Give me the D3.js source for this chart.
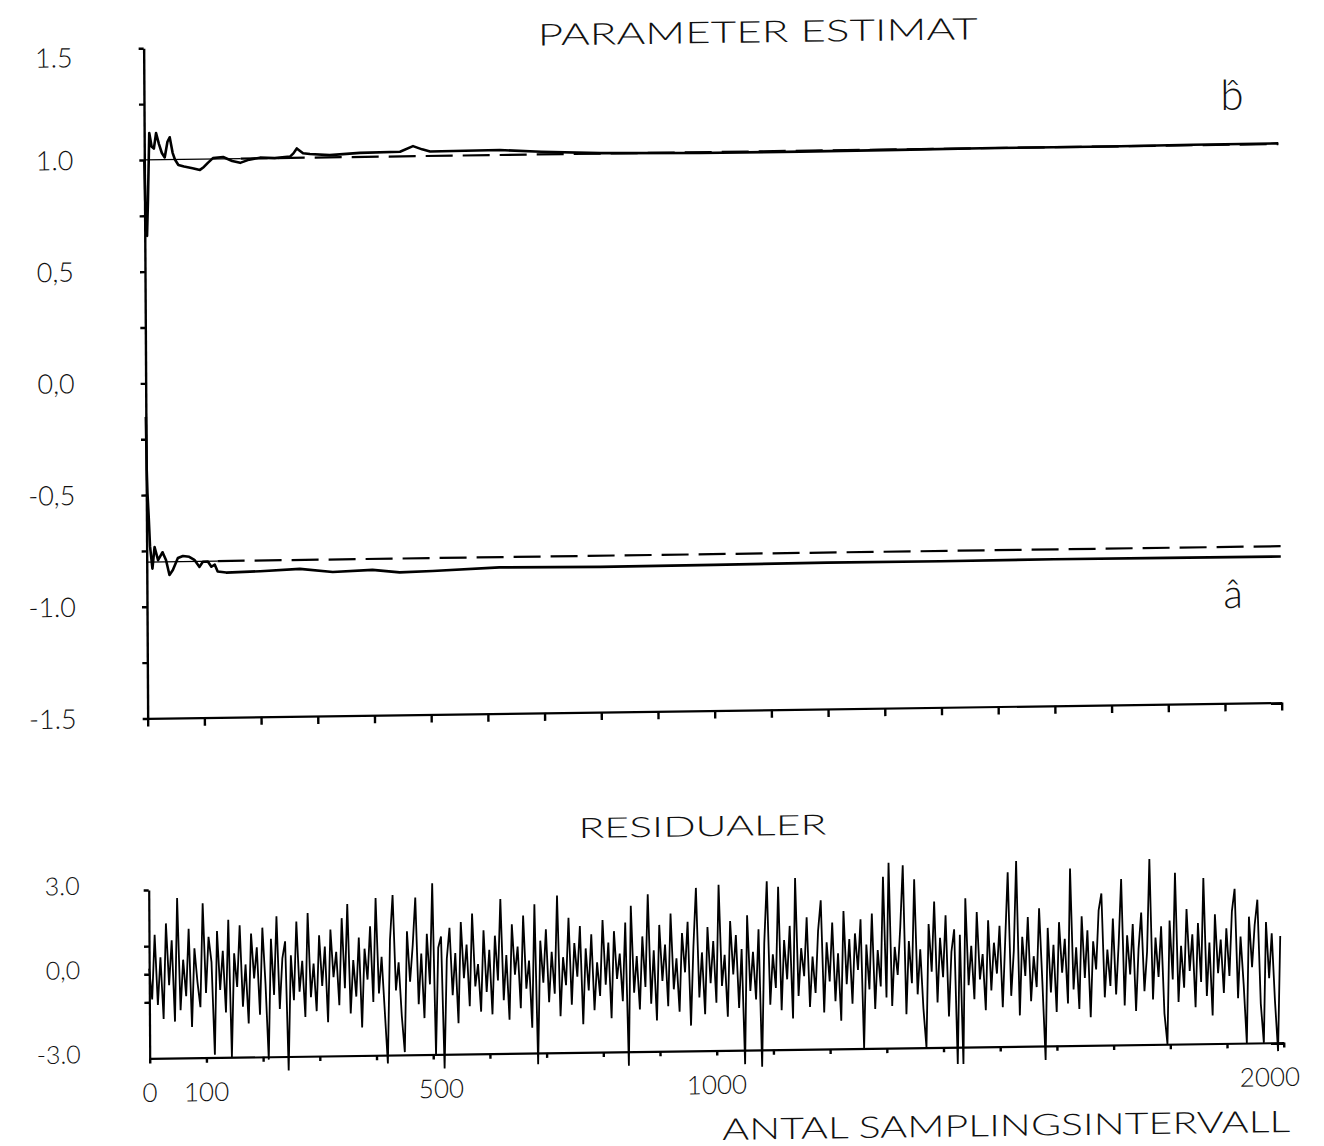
<!DOCTYPE html>
<html>
<head>
<meta charset="utf-8">
<script src="https://cdn.jsdelivr.net/npm/d3@7"></script>
<style>
  body { margin: 0; background: #fff; }
  svg text { font-family: Lato, "DejaVu Sans", sans-serif; font-weight: 300; fill: #111; }
</style>
</head>
<body>
<svg id="chart"></svg>
<script>
// parameter estimates (sample index, value)
const bT   = [0, 2, 4, 6, 9, 13, 17, 21, 26, 31, 36, 41, 45, 50, 54, 60, 70, 85, 98, 105, 112, 121, 139, 155, 169, 185, 204, 230, 257, 263, 269, 280, 292, 327, 380, 451, 474, 490, 504, 627, 700, 804, 980, 1157, 1330, 1500, 1700, 1850, 2000];
const bEst = [1.0, 0.70, 0.66, 0.82, 1.12, 1.06, 1.05, 1.12, 1.07, 1.03, 1.01, 1.08, 1.10, 1.03, 1.0, 0.975, 0.968, 0.96, 0.952, 0.965, 0.983, 1.004, 1.008, 0.99, 0.981, 0.995, 1.003, 1.0, 1.006, 1.02, 1.042, 1.02, 1.016, 1.01, 1.018, 1.021, 1.045, 1.03, 1.02, 1.022, 1.012, 1.002, 0.996, 0.996, 0.998, 1.0, 1.0, 1.002, 1.003];

const aT   = [0, 1, 2, 4, 6, 10, 14, 20, 28, 34, 40, 46, 55, 64, 75, 84, 93, 99, 108, 114, 120, 125, 140, 200, 270, 328, 398, 446, 504, 622, 800, 1000, 1200, 1400, 1600, 1800, 2000];
const aEst = [-0.15, -0.39, -0.49, -0.6, -0.73, -0.83, -0.733, -0.792, -0.757, -0.792, -0.859, -0.837, -0.784, -0.775, -0.779, -0.793, -0.825, -0.802, -0.802, -0.825, -0.816, -0.847, -0.852, -0.848, -0.84, -0.856, -0.849, -0.862, -0.858, -0.846, -0.85, -0.848, -0.845, -0.846, -0.844, -0.845, -0.846];

// true parameter values, thin solid up to refEnd then dashed
const trueB = 1.0, trueA = -0.8;
const refEndB = 170, refEndA = 125;

// residuals, one value every resStep samples
const resStep = 5;
const residuals = [
  0.2, -0.9, 1.4, -1.1, 0.6, -1.6, 1.8, -0.4, 1.2, -1.7, 2.7, -1.3, 0.5, -0.8, 1.6, -1.9, 0.9, -0.3, -1.2, 2.5,
  -0.7, 1.3, 0.4, -2.9, 1.5, -0.6, 0.8, -1.4, 1.9, -3.0, 0.7, -0.5, 1.7, -1.2, 0.3, -1.8, 1.4, -0.2, 0.9, -1.5,
  1.6, -0.4, -3.1, 1.2, -0.8, 2.0, -1.3, 0.5, 1.1, -3.5, 0.6, -1.0, 1.8, -0.7, 0.4, -1.6, 2.1, -0.9, 0.3, -1.4,
  1.3, -0.5, 0.9, -1.8, 1.5, -0.2, 0.7, -1.2, 1.9, -0.6, 2.4, -1.5, 0.4, -0.9, 1.2, -2.0, 0.8, -0.3, 1.6, -1.1,
  2.6, -0.8, 0.5, -1.4, -3.3, 1.1, 2.7, -0.7, 0.3, -1.6, -2.9, 1.4, -0.4, 0.9, 2.6, -1.2, 0.6, -1.7, 1.3, -0.5,
  3.1, -3.0, 0.8, 1.2, -3.5, 0.4, 1.5, -0.9, 0.6, -1.9, 1.7, -0.3, 0.9, -1.3, 2.0, -0.6, 0.2, -1.5, 1.4, -0.8,
  0.7, -1.6, 1.2, -0.4, 2.5, -1.1, 0.5, -1.8, 1.6, -0.2, 0.8, -1.4, 1.9, -0.7, 0.3, -2.1, 2.3, -3.4, 1.0, -0.5,
  1.4, -1.2, 0.6, -0.9, 2.6, -1.7, 0.4, -0.6, 1.8, -1.3, 0.9, -0.3, 1.5, -2.0, 0.7, -0.8, 1.2, -1.5, 0.2, -1.0,
  1.7, -0.6, 0.9, -1.8, 1.3, -0.4, 0.5, -1.2, 1.6, -3.5, 2.2, -0.9, 0.4, -1.5, 1.1, -0.7, 2.6, -1.3, 0.6, -1.9,
  1.5, -0.5, 0.8, -1.4, 1.9, -0.8, 0.3, -1.6, 1.2, -0.2, 1.6, -2.1, 0.7, 2.8, -1.1, 0.5, -1.7, 1.4, -0.6, 0.9,
  -1.3, 2.9, -0.7, 0.4, -1.8, 1.6, -0.3, 1.1, -1.5, 0.6, -3.5, 1.8, -0.9, 0.5, -1.2, 1.3, -3.6, 0.8, 3.0, -1.4,
  0.4, -0.8, 2.8, -1.6, 0.9, -0.5, 1.4, -1.9, 3.1, -1.1, 0.6, -0.4, 1.7, -1.5, 0.3, -1.0, 1.2, 2.3, -1.7, 0.8,
  -0.6, 1.5, -1.3, 0.4, -2.0, 1.9, -0.7, 0.9, -1.4, 1.1, -0.2, 1.6, -3.0, 0.7, -0.9, 1.8, -1.6, 0.5, -0.8, 3.1,
  -1.2, 3.6, -1.5, 0.6, -0.4, 1.3, 3.5, -1.8, 0.8, -0.7, 3.0, -1.1, 0.5, -1.6, -3.0, 1.4, -0.3, 2.2, -1.4, 0.9,
  -0.5, 1.7, -1.9, 0.4, 1.2, -3.6, 1.0, -3.6, 2.3, -0.8, 0.6, -1.3, 1.8, -0.6, 0.3, -1.7, 1.5, -1.0, 0.7, -0.4,
  1.3, -1.6, 0.8, 3.2, -1.2, 0.4, 3.6, -1.9, 0.9, -0.5, 1.6, -1.4, 0.2, -0.9, 1.9, -0.7, -3.5, 1.2, -1.1, 0.6,
  -1.8, 1.4, -0.4, 0.8, -1.5, 3.3, -1.0, 0.5, -1.7, 1.6, -0.6, 1.1, -2.0, 0.7, -0.3, 1.8, 2.4, -1.3, 0.4, -0.9,
  1.5, -1.2, 0.6, 2.9, -1.6, 0.9, -0.5, 1.3, -1.8, 0.4, 1.7, -1.1, 0.3, 3.6, -1.4, 0.8, -0.6, 1.2, -1.9, -3.0,
  1.4, -0.7, 3.1, -1.5, 0.5, -1.0, 1.8, -0.4, 0.9, -1.7, 1.3, -0.8, 2.9, -1.3, 0.6, -2.0, 1.6, -0.5, 0.7, -1.2,
  1.1, -0.6, 1.7, 2.5, -1.4, 0.8, -0.9, -3.0, 1.5, -0.3, 1.2, 2.1, -1.6, -3.0, 1.3, -0.7, 0.9, -1.5, -3.3, 0.8
];

// ticks and labels
const xTickVals = d3.range(0, 2001, 100);
const xLabelVals = [0, 100, 500, 1000, 2000];
const xLabels = ["0", "100", "500", "1000", "2000"];
const yTopTicks = [-1.5, -1.25, -1, -0.75, -0.5, -0.25, 0, 0.25, 0.5, 0.75, 1, 1.25, 1.5];
const yTopLabelVals = [1.5, 1, 0.5, 0, -0.5, -1, -1.5];
const yTopLabels = ["1.5", "1.0", "0,5", "0,0", "-0,5", "-1.0", "-1.5"];
const yResTicks = [-1, 0, 1, 3];
const yResLabelVals = [3, 0, -3];
const yResLabels = ["3.0", "0,0", "-3.0"];

const svg = d3.select("#chart")
  .attr("width", 1324)
  .attr("height", 1146);

svg.append("rect").attr("width", 1324).attr("height", 1146).attr("fill", "#fff");

// the scanned sheet sits a little skewed
const g = svg.append("g")
  .attr("transform", "matrix(1,-0.014,0.006,1,-3.6,10.01)");

const x = d3.scaleLinear().domain([0, 2000]).range([147, 1281]);
const yP = d3.scaleLinear().domain([-1.5, 1.5]).range([710.5, 40.3]);
const yR = d3.scaleLinear().domain([-3, 3]).range([1050.5, 882]);

function styleAxis(sel, w) {
  sel.selectAll("path.domain").attr("stroke", "#000").attr("stroke-width", w);
  sel.selectAll(".tick line").attr("stroke", "#000").attr("stroke-width", 2.4);
}

// ---- top panel
g.append("g")
  .attr("transform", "translate(0," + yP(-1.5) + ")")
  .call(d3.axisBottom(x).tickValues(xTickVals).tickFormat("").tickSize(8).tickSizeOuter(0))
  .call(styleAxis, 2.2);

g.append("g")
  .attr("transform", "translate(" + x(0) + ",0)")
  .call(d3.axisLeft(yP).tickValues(yTopTicks).tickFormat("").tickSize(5).tickSizeOuter(0))
  .call(styleAxis, 2.4);

g.selectAll(".ylab-top")
  .data(yTopLabelVals)
  .enter().append("text")
  .attr("x", 76)
  .attr("y", (d, i) => yP(d) + (i === 0 ? 18 : 9))
  .attr("text-anchor", "end")
  .style("font-size", "27px")
  .text((d, i) => yTopLabels[i]);

g.append("text")
  .attr("x", 541).attr("y", 43)
  .attr("textLength", 440).attr("lengthAdjust", "spacingAndGlyphs")
  .style("font-size", "30px")
  .text("PARAMETER ESTIMAT");

// reference lines for the true values
[[trueB, refEndB], [trueA, refEndA]].forEach(([v, end]) => {
  g.append("line")
    .attr("x1", x(0)).attr("x2", x(end))
    .attr("y1", yP(v)).attr("y2", yP(v))
    .attr("stroke", "#000").attr("stroke-width", 1.3);
  g.append("line")
    .attr("x1", x(end)).attr("x2", x(2000))
    .attr("y1", yP(v)).attr("y2", yP(v))
    .attr("stroke", "#000").attr("stroke-width", 2.2)
    .attr("stroke-dasharray", "27,10");
});

const lineB = d3.line().x((d, i) => x(bT[i])).y(d => yP(d));
const lineA = d3.line().x((d, i) => x(aT[i])).y(d => yP(d));

g.append("path").datum(bEst)
  .attr("d", lineB)
  .attr("fill", "none").attr("stroke", "#000").attr("stroke-width", 2.6)
  .attr("stroke-linejoin", "round");

g.append("path").datum(aEst)
  .attr("d", lineA)
  .attr("fill", "none").attr("stroke", "#000").attr("stroke-width", 2.6)
  .attr("stroke-linejoin", "round");

// hat labels (one text each, combining circumflex)
g.append("text").attr("x", 1235).attr("y", 117).attr("text-anchor", "middle")
  .style("font-size", "42px").text("b\u0302");
g.append("text").attr("x", 1233).attr("y", 615).attr("text-anchor", "middle")
  .style("font-size", "40px").text("\u00e2");

// ---- residual panel
g.append("text")
  .attr("x", 577).attr("y", 836)
  .attr("textLength", 248).attr("lengthAdjust", "spacingAndGlyphs")
  .style("font-size", "28px")
  .text("RESIDUALER");

g.append("path").datum(residuals)
  .attr("d", d3.line().x((d, i) => x(i * resStep)).y(d => yR(d)))
  .attr("fill", "none").attr("stroke", "#000").attr("stroke-width", 1.8);

g.append("g")
  .attr("transform", "translate(0," + yR(-3) + ")")
  .call(d3.axisBottom(x).tickValues(xTickVals).tickFormat("").tickSize(5).tickSizeOuter(0))
  .call(styleAxis, 2.2);

g.append("g")
  .attr("transform", "translate(" + x(0) + ",0)")
  .call(d3.axisLeft(yR).tickValues(yResTicks).tickFormat("").tickSize(5).tickSizeOuter(0))
  .call(styleAxis, 2.2);

g.selectAll(".ylab-res")
  .data(yResLabelVals)
  .enter().append("text")
  .attr("x", 78)
  .attr("y", d => yR(d) + 4)
  .attr("text-anchor", "end")
  .style("font-size", "25px")
  .text((d, i) => yResLabels[i]);

g.selectAll(".xlab")
  .data(xLabelVals)
  .enter().append("text")
  .attr("x", d => x(d))
  .attr("dx", (d, i) => i === xLabelVals.length - 1 ? -14 : (i === 2 ? 8 : 0))
  .attr("y", 1094)
  .attr("text-anchor", "middle")
  .style("font-size", "26px")
  .text((d, i) => xLabels[i]);

g.append("text")
  .attr("x", 719).attr("y", 1140)
  .attr("textLength", 568).attr("lengthAdjust", "spacingAndGlyphs")
  .style("font-size", "30px")
  .text("ANTAL SAMPLINGSINTERVALL");
</script>
</body>
</html>
